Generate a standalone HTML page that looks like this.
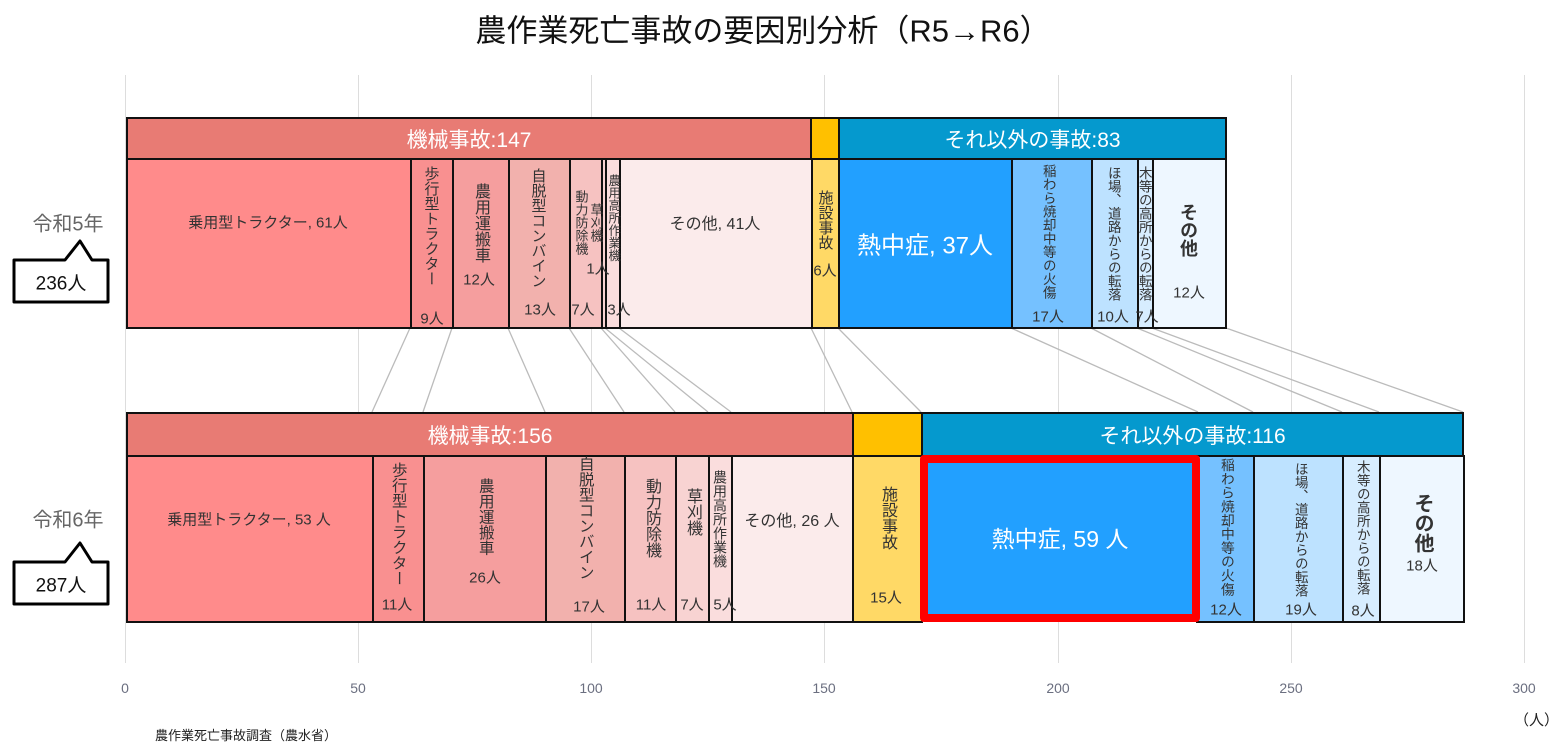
<!DOCTYPE html>
<html><head><meta charset="utf-8">
<style>
body{margin:0;width:1554px;height:747px;background:#fff;position:relative;overflow:hidden;font-family:"Liberation Sans","Noto Sans CJK JP",sans-serif;}
.a{position:absolute;}
.c{position:absolute;box-sizing:border-box;border:2px solid #111;}
.h{position:absolute;box-sizing:border-box;border:2px solid #111;color:#fff;font-size:21px;display:flex;align-items:center;justify-content:center;}
.v{position:absolute;writing-mode:vertical-rl;transform:translateX(-50%);color:#333;line-height:1;white-space:nowrap;letter-spacing:0;}
.n{position:absolute;transform:translate(-50%,-50%);color:#333;font-size:15px;white-space:nowrap;}
.t{position:absolute;transform:translate(-50%,-50%);white-space:nowrap;}
.ax{position:absolute;transform:translateX(-50%);color:#6b6f80;font-size:14px;top:680px;}
.g{position:absolute;top:75px;height:588px;width:1px;background:#ddd;}
</style></head><body>
<div class="g" style="left:125px"></div><div class="g" style="left:358px"></div><div class="g" style="left:591px"></div><div class="g" style="left:824px"></div><div class="g" style="left:1058px"></div><div class="g" style="left:1291px"></div><div class="g" style="left:1524px"></div>
<div class="ax" style="left:125px">0</div><div class="ax" style="left:358px">50</div><div class="ax" style="left:591px">100</div><div class="ax" style="left:824px">150</div><div class="ax" style="left:1058px">200</div><div class="ax" style="left:1291px">250</div><div class="ax" style="left:1524px">300</div>
<div class="a" style="left:1514px;top:709px;font-size:15px;color:#222">（人）</div>
<div class="a" style="left:155px;top:725px;font-size:13px;color:#222">農作業死亡事故調査（農水省）</div>
<div class="t" style="left:763px;top:28px;font-size:31px;color:#111">農作業死亡事故の要因別分析（R5→R6）</div>

<svg class="a" style="left:0;top:0" width="1554" height="747">
<g stroke="#bbb" stroke-width="1.3" fill="none">
<line x1="410" y1="328" x2="372" y2="412"/><line x1="452" y1="328" x2="423" y2="412"/><line x1="508" y1="328" x2="545" y2="412"/><line x1="569" y1="328" x2="624" y2="412"/><line x1="601" y1="328" x2="675" y2="412"/><line x1="605" y1="328" x2="708" y2="412"/><line x1="619" y1="328" x2="731" y2="412"/><line x1="811" y1="328" x2="852" y2="412"/><line x1="838" y1="328" x2="921" y2="412"/><line x1="1011" y1="328" x2="1198" y2="412"/><line x1="1091" y1="328" x2="1253" y2="412"/><line x1="1137" y1="328" x2="1342" y2="412"/><line x1="1152" y1="328" x2="1379" y2="412"/><line x1="1226" y1="328" x2="1463" y2="412"/>
</g>
<g fill="#fff" stroke="#000" stroke-width="3" stroke-linejoin="round">
<path d="M14 260 H65 L80 241 L92 260 H108 V302 H14 Z"/>
<path d="M14 562 H65 L80 543 L92 562 H108 V604 H14 Z"/>
</g>
</svg>
<div class="t" style="left:68px;top:222px;font-size:20px;color:#666">令和5年</div>
<div class="t" style="left:61px;top:282px;font-size:19px;color:#111">236人</div>
<div class="t" style="left:68px;top:518px;font-size:20px;color:#666">令和6年</div>
<div class="t" style="left:61px;top:584px;font-size:19px;color:#111">287人</div>

<div class="h" style="left:126px;top:117px;width:686px;height:43px;background:#E87B74">機械事故:147</div>
<div class="h" style="left:810px;top:117px;width:30px;height:43px;background:#FFC000"></div>
<div class="h" style="left:838px;top:117px;width:389px;height:43px;background:#0599CE">それ以外の事故:83</div>
<div class="c" style="left:126px;top:158px;width:286px;height:171px;background:#FF8B8B"></div>
<div class="c" style="left:410px;top:158px;width:44px;height:171px;background:#F99090"></div>
<div class="c" style="left:452px;top:158px;width:58px;height:171px;background:#F59E9E"></div>
<div class="c" style="left:508px;top:158px;width:63px;height:171px;background:#F2B1AD"></div>
<div class="c" style="left:569px;top:158px;width:34px;height:171px;background:#F6C2C1"></div>
<div class="c" style="left:601px;top:158px;width:6px;height:171px;background:#F8D3D2"></div>
<div class="c" style="left:605px;top:158px;width:16px;height:171px;background:#FADDDD"></div>
<div class="c" style="left:619px;top:158px;width:194px;height:171px;background:#FBEBEB"></div>
<div class="c" style="left:811px;top:158px;width:29px;height:171px;background:#FFD966"></div>
<div class="c" style="left:838px;top:158px;width:175px;height:171px;background:#22A0FF"></div>
<div class="c" style="left:1011px;top:158px;width:82px;height:171px;background:#75C1FF"></div>
<div class="c" style="left:1091px;top:158px;width:48px;height:171px;background:#BDE2FF"></div>
<div class="c" style="left:1137px;top:158px;width:17px;height:171px;background:#D7EDFF"></div>
<div class="c" style="left:1152px;top:158px;width:75px;height:171px;background:#EEF7FF"></div>
<div class="n" style="left:268px;top:222px">乗用型トラクター, 61人</div>
<div class="n" style="left:715px;top:222px;font-size:16px">その他, 41人</div>
<div class="t" style="left:925px;top:243px;font-size:24px;color:#fff">熱中症, 37人</div>
<div class="v" style="left:431px;top:166px;font-size:15px">歩行型トラクター</div><div class="n" style="left:432px;top:318px">9人</div>
<div class="v" style="left:480px;top:183px;font-size:16px">農用運搬車</div><div class="n" style="left:479px;top:279px">12人</div>
<div class="v" style="left:538px;top:168px;font-size:15px">自脱型コンバイン</div><div class="n" style="left:540px;top:309px">13人</div>
<div class="v" style="left:581px;top:190px;font-size:13px">動力防除機</div><div class="n" style="left:583px;top:309px">7人</div>
<div class="v" style="left:596px;top:203px;font-size:13px">草刈機</div><div class="n" style="left:598px;top:268px">1人</div>
<div class="v" style="left:613px;top:174px;font-size:12.5px">農用高所作業機</div><div class="n" style="left:619px;top:309px">3人</div>
<div class="v" style="left:825px;top:190px;font-size:15px">施設事故</div><div class="n" style="left:825px;top:270px">6人</div>
<div class="v" style="left:1048px;top:164px;font-size:13.5px">稲わら焼却中等の火傷</div><div class="n" style="left:1048px;top:316px">17人</div>
<div class="v" style="left:1113px;top:166px;font-size:13.5px">ほ場、道路からの転落</div><div class="n" style="left:1113px;top:316px">10人</div>
<div class="v" style="left:1144px;top:166px;font-size:13.5px">木等の高所からの転落</div><div class="n" style="left:1147px;top:316px">7人</div>
<div class="v" style="left:1188px;top:203px;font-size:18px;font-weight:bold">その他</div><div class="n" style="left:1189px;top:292px">12人</div>

<div class="h" style="left:126px;top:412px;width:728px;height:45px;background:#E87B74">機械事故:156</div>
<div class="h" style="left:852px;top:412px;width:71px;height:45px;background:#FFC000"></div>
<div class="h" style="left:921px;top:412px;width:543px;height:45px;background:#0599CE">それ以外の事故:116</div>
<div class="c" style="left:126px;top:455px;width:248px;height:168px;background:#FF8B8B"></div>
<div class="c" style="left:372px;top:455px;width:53px;height:168px;background:#F99090"></div>
<div class="c" style="left:423px;top:455px;width:124px;height:168px;background:#F59E9E"></div>
<div class="c" style="left:545px;top:455px;width:81px;height:168px;background:#F2B1AD"></div>
<div class="c" style="left:624px;top:455px;width:53px;height:168px;background:#F6C2C1"></div>
<div class="c" style="left:675px;top:455px;width:35px;height:168px;background:#F8D3D2"></div>
<div class="c" style="left:708px;top:455px;width:25px;height:168px;background:#FADDDD"></div>
<div class="c" style="left:731px;top:455px;width:123px;height:168px;background:#FBEBEB"></div>
<div class="c" style="left:852px;top:455px;width:71px;height:168px;background:#FFD966"></div>
<div class="c" style="left:1196px;top:455px;width:59px;height:168px;background:#75C1FF"></div>
<div class="c" style="left:1253px;top:455px;width:91px;height:168px;background:#BDE2FF"></div>
<div class="c" style="left:1342px;top:455px;width:39px;height:168px;background:#D7EDFF"></div>
<div class="c" style="left:1379px;top:455px;width:86px;height:168px;background:#EEF7FF"></div>
<div class="a" style="left:920px;top:455px;width:280px;height:167px;box-sizing:border-box;border:8px solid #FF0000;border-radius:4px;background:#22A0FF"></div>
<div class="n" style="left:249px;top:519px">乗用型トラクター, 53 人</div>
<div class="n" style="left:792px;top:519px;font-size:16px">その他, 26 人</div>
<div class="t" style="left:1060px;top:537px;font-size:23px;color:#fff">熱中症, 59 人</div>
<div class="v" style="left:398px;top:462px;font-size:15.5px">歩行型トラクター</div><div class="n" style="left:397px;top:604px">11人</div>
<div class="v" style="left:485px;top:478px;font-size:15.5px">農用運搬車</div><div class="n" style="left:485px;top:577px">26人</div>
<div class="v" style="left:585px;top:456px;font-size:15.5px">自脱型コンバイン</div><div class="n" style="left:589px;top:606px">17人</div>
<div class="v" style="left:651px;top:478px;font-size:16px">動力防除機</div><div class="n" style="left:651px;top:604px">11人</div>
<div class="v" style="left:692px;top:488px;font-size:16px">草刈機</div><div class="n" style="left:692px;top:604px">7人</div>
<div class="v" style="left:720px;top:470px;font-size:14px">農用高所作業機</div><div class="n" style="left:725px;top:604px">5人</div>
<div class="v" style="left:887px;top:486px;font-size:16px">施設事故</div><div class="n" style="left:886px;top:597px">15人</div>
<div class="v" style="left:1226px;top:458px;font-size:13.8px">稲わら焼却中等の火傷</div><div class="n" style="left:1226px;top:609px">12人</div>
<div class="v" style="left:1300px;top:462px;font-size:13.5px">ほ場、道路からの転落</div><div class="n" style="left:1301px;top:609px">19人</div>
<div class="v" style="left:1362px;top:460px;font-size:13.5px">木等の高所からの転落</div><div class="n" style="left:1363px;top:610px">8人</div>
<div class="v" style="left:1422px;top:493px;font-size:20px;font-weight:bold">その他</div><div class="n" style="left:1422px;top:565px">18人</div>
</body></html>
